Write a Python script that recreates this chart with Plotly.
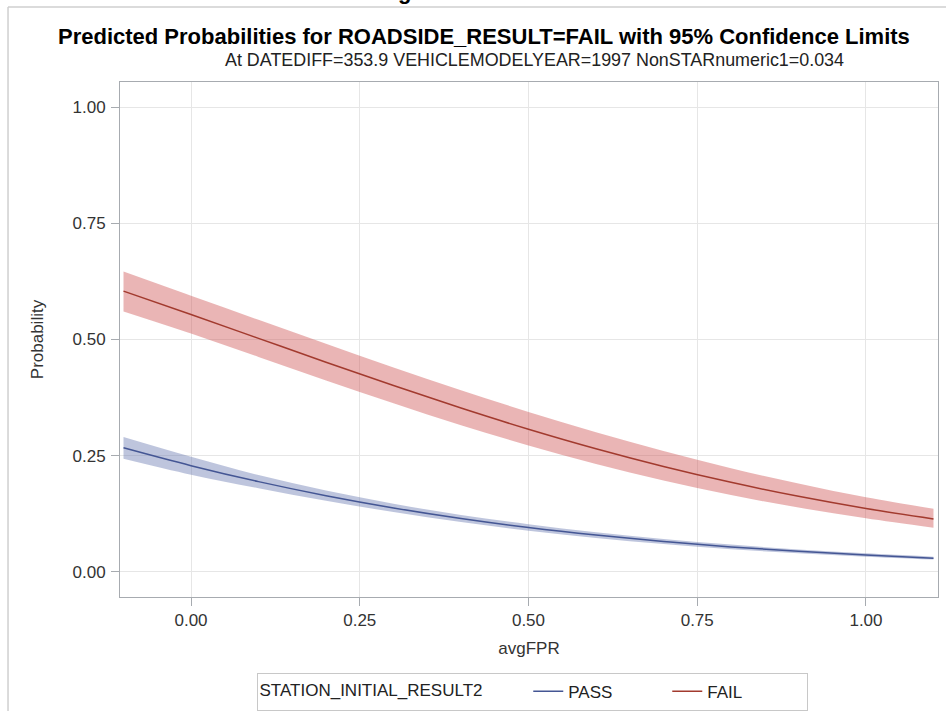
import plotly.graph_objects as go

# ---- data (predicted probability and 95% limits) ----
avg_fpr = [-0.1, 0.0, 0.1, 0.2, 0.3, 0.4, 0.5, 0.6, 0.7, 0.8, 0.9, 1.0, 1.1]

fail_pred = [0.6040, 0.5538, 0.5025, 0.4512, 0.4009, 0.3525, 0.3070,
             0.2650, 0.2269, 0.1928, 0.1627, 0.1366, 0.1141]
fail_upper = [0.6461, 0.5941, 0.5424, 0.4910, 0.4398, 0.3910, 0.3443,
              0.3005, 0.2600, 0.2232, 0.1903, 0.1606, 0.1359]
fail_lower = [0.5602, 0.5127, 0.4626, 0.4119, 0.3631, 0.3158, 0.2721,
              0.2324, 0.1969, 0.1656, 0.1385, 0.1157, 0.0953]

pass_pred = [0.2670, 0.2286, 0.1943, 0.1641, 0.1378, 0.1151, 0.0957,
             0.0793, 0.0655, 0.0540, 0.0444, 0.0364, 0.0298]
pass_upper = [0.2905, 0.2480, 0.2084, 0.1751, 0.1467, 0.1227, 0.1026,
              0.0855, 0.0710, 0.0589, 0.0486, 0.0401, 0.0330]
pass_lower = [0.2435, 0.2092, 0.1802, 0.1531, 0.1289, 0.1075, 0.0888,
              0.0731, 0.0600, 0.0491, 0.0402, 0.0327, 0.0266]

x_ticks = [0.0, 0.25, 0.5, 0.75, 1.0]
y_ticks = [0.0, 0.25, 0.5, 0.75, 1.0]

title_text = "Predicted Probabilities for ROADSIDE_RESULT=FAIL with 95% Confidence Limits"
subtitle_text = "At DATEDIFF=353.9 VEHICLEMODELYEAR=1997 NonSTARnumeric1=0.034"
legend_title = "STATION_INITIAL_RESULT2"

FONT = "Liberation Sans, Arial, sans-serif"
RED_LINE = "#A23A2E"
BLUE_LINE = "#445694"
RED_FILL = "rgba(208,91,91,0.45)"
BLUE_FILL = "rgba(111,126,179,0.45)"
AXIS_GRAY = "#A7ABB0"
GRID = "#E6E6E6"

fig = go.Figure()

# confidence bands
for lo, hi, col in [(pass_lower, pass_upper, BLUE_FILL), (fail_lower, fail_upper, RED_FILL)]:
    fig.add_trace(go.Scatter(x=avg_fpr, y=hi, mode="lines", line=dict(width=0, shape="spline"),
                             showlegend=False, hoverinfo="skip"))
    fig.add_trace(go.Scatter(x=avg_fpr, y=lo, mode="lines", line=dict(width=0, shape="spline"),
                             fill="tonexty", fillcolor=col, showlegend=False, hoverinfo="skip"))

fig.add_trace(go.Scatter(x=avg_fpr, y=pass_pred, mode="lines", name="PASS",
                         line=dict(color=BLUE_LINE, width=1.5, shape="spline")))
fig.add_trace(go.Scatter(x=avg_fpr, y=fail_pred, mode="lines", name="FAIL",
                         line=dict(color=RED_LINE, width=1.5, shape="spline")))

axis_common = dict(showline=True, mirror=True, linecolor=AXIS_GRAY, linewidth=1,
                   showgrid=True, gridcolor=GRID, gridwidth=1, zeroline=False,
                   ticks="outside", ticklen=8, tickcolor=AXIS_GRAY, tickwidth=1,
                   tickformat=".2f", tickfont=dict(family=FONT, size=17, color="#333333"))

fig.update_xaxes(range=[-0.1052, 1.1067], tickvals=x_ticks, **axis_common,
                 title=dict(text="avgFPR", font=dict(family=FONT, size=17, color="#333333"), standoff=12))
fig.update_yaxes(range=[-0.0538, 1.0538], tickvals=y_ticks, ticklabelstandoff=2, **axis_common,
                 title=dict(text="Probability", font=dict(family=FONT, size=17, color="#333333"), standoff=24))

fig.update_layout(
    width=946, height=711,
    margin=dict(l=120, r=8, t=82, b=114, autoexpand=False),
    paper_bgcolor="white", plot_bgcolor="white",
    font=dict(family=FONT, color="#333333"),
    showlegend=True,
    legend=dict(orientation="h", x=0.5037, xanchor="center", y=-0.184, yanchor="middle",
                bordercolor="#C8C8C8", borderwidth=1, bgcolor="white",
                traceorder="normal",
                font=dict(family=FONT, size=17, color="#222222"),
                title=dict(text=legend_title + "&nbsp;&nbsp;&nbsp;&nbsp;&nbsp;&nbsp;&nbsp;&nbsp;",
                           side="left", font=dict(family=FONT, size=17, color="#222222")),
                itemwidth=30, entrywidth=94, entrywidthmode="pixels", tracegroupgap=0),
    annotations=[
        dict(text="<b>" + title_text + "</b>", xref="paper", yref="paper", x=0.445, y=1.0874,
             xanchor="center", yanchor="middle", showarrow=False,
             font=dict(family=FONT, size=22, color="black")),
        dict(text=subtitle_text, xref="paper", yref="paper", x=0.5073, y=1.0427,
             xanchor="center", yanchor="middle", showarrow=False,
             font=dict(family=FONT, size=17.9, color="#222222")),
        dict(text="<b>g</b>", xref="paper", yref="paper", x=(404 - 120) / 818, y=1.1476,
             xanchor="center", yanchor="bottom", showarrow=False,
             font=dict(family=FONT, size=22, color="black")),
    ],
    shapes=[
        dict(type="line", xref="paper", yref="paper", x0=-0.1369, x1=-0.1369, y0=1.1456, y1=-0.25,
             line=dict(color="#CFCFCF", width=1.5)),
        dict(type="line", xref="paper", yref="paper", x0=-0.1369, x1=1.02, y0=1.1456, y1=1.1456,
             line=dict(color="#CFCFCF", width=1.5)),
    ],
)

fig.write_html("out.html")
